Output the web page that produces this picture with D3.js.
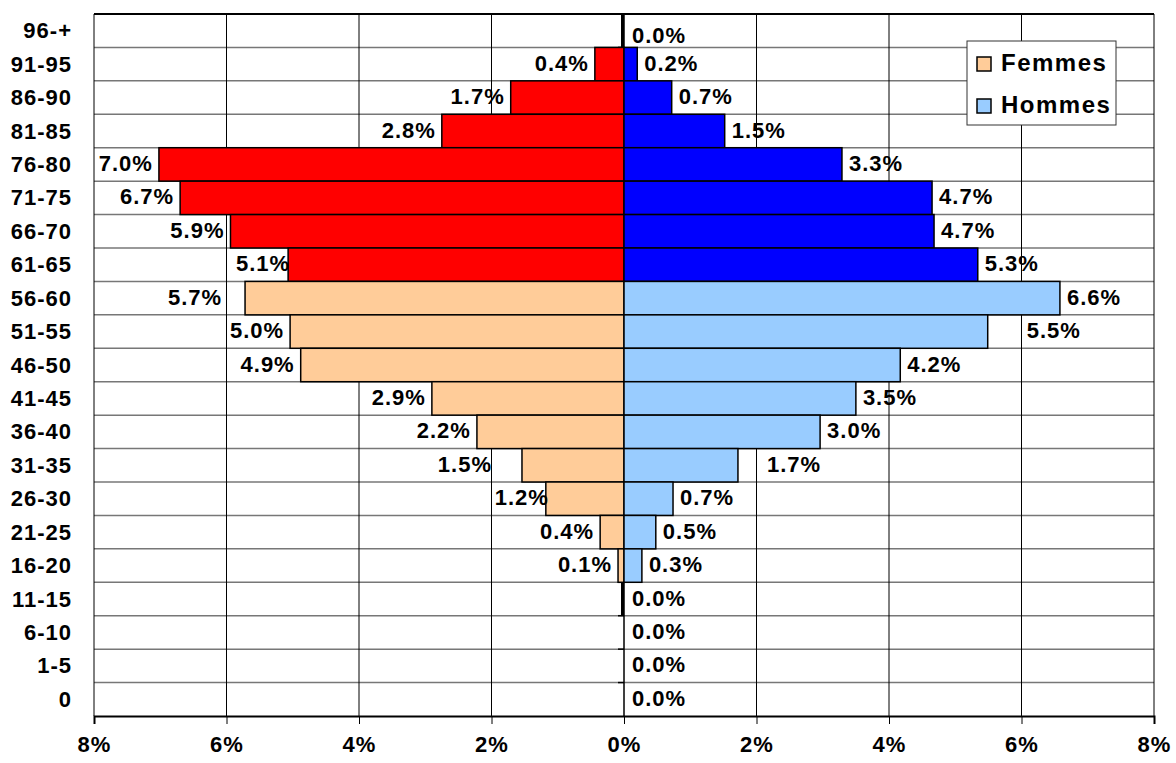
<!DOCTYPE html>
<html>
<head>
<meta charset="utf-8">
<script src="https://cdn.jsdelivr.net/npm/d3@7"></script>
<style>
  body { margin: 0; background: #fff; }
  text { font-family: Arial, "Liberation Sans", sans-serif; font-weight: bold; fill: #000; }
</style>
</head>
<body>
<svg id="chart" width="1176" height="763"></svg>
<script>
  // ============================================================
  // Data (percent of total population)
  // ============================================================

  const ages = ["96-+", "91-95", "86-90", "81-85", "76-80", "71-75", "66-70", "61-65",
    "56-60", "51-55", "46-50", "41-45", "36-40", "31-35", "26-30", "21-25", "16-20",
    "11-15", "6-10", "1-5", "0"];

  // null = no bar at all
  const femmes = [0, 0.44, 1.71, 2.75, 7.02, 6.70, 5.94, 5.07,
    5.72, 5.04, 4.88, 2.90, 2.22, 1.54, 1.18, 0.36, 0.09,
    0, null, null, null];

  const hommes = [0, 0.20, 0.72, 1.52, 3.29, 4.65, 4.68, 5.34,
    6.58, 5.49, 4.17, 3.50, 2.96, 1.72, 0.74, 0.48, 0.27,
    0, 0, 0, 0];

  const xTicks = [-8, -6, -4, -2, 0, 2, 4, 6, 8];
  const seniorAges = ["96-+", "91-95", "86-90", "81-85", "76-80", "71-75", "66-70", "61-65"];

  const colors = {
    femmes: "#ffcc99", femmesSenior: "#ff0000",
    hommes: "#99ccff", hommesSenior: "#0000ff"
  };

  // ============================================================
  // Layout
  // ============================================================

  const svg = d3.select("#chart");
  const x = d3.scaleLinear().domain([-8, 8]).range([94, 1154]);
  const y = d3.scaleBand().domain(ages).range([14, 716]).padding(0);
  const fmt = v => v.toFixed(1) + "%";

  // horizontal gridlines (row boundaries)
  svg.append("g").selectAll("line")
    .data(ages.slice(1))
    .join("line")
    .attr("x1", x(-8)).attr("x2", x(8))
    .attr("y1", d => y(d)).attr("y2", d => y(d))
    .attr("stroke", "#777").attr("stroke-width", 1.5);

  // vertical gridlines
  svg.append("g").selectAll("line")
    .data(xTicks)
    .join("line")
    .attr("x1", d => x(d)).attr("x2", d => x(d))
    .attr("y1", y.range()[0]).attr("y2", y.range()[1])
    .attr("stroke", "#000").attr("stroke-width", 1);

  // plot frame: top
  svg.append("line").attr("x1", x(-8)).attr("x2", x(8))
    .attr("y1", 14).attr("y2", 14).attr("stroke", "#000").attr("stroke-width", 2);

  // bottom axis
  const xAxis = d3.axisBottom(x)
    .tickValues(xTicks)
    .tickSize(8)
    .tickFormat(d => Math.abs(d) + "%");
  const gx = svg.append("g").attr("transform", `translate(0,${y.range()[1]})`).call(xAxis);
  gx.select(".domain").attr("stroke", "#000").attr("stroke-width", 2);
  gx.selectAll(".tick line").attr("stroke", "#000");
  gx.selectAll(".tick text")
    .attr("y", 36)
    .attr("dy", 0)
    .attr("font-size", 22)
    .attr("letter-spacing", 1)
    .attr("font-family", "Arial, 'Liberation Sans', sans-serif")
    .attr("font-weight", "bold");

  // category labels
  svg.append("g").selectAll("text")
    .data(ages)
    .join("text")
    .attr("x", 72)
    .attr("y", d => y(d) + y.bandwidth() / 2 + 7.5)
    .attr("text-anchor", "end")
    .attr("font-size", 22)
    .attr("letter-spacing", 1)
    .text(d => d);

  // center axis with small ticks to the left
  svg.append("line").attr("x1", x(0)).attr("x2", x(0))
    .attr("y1", 14).attr("y2", 716).attr("stroke", "#000").attr("stroke-width", 1);
  svg.append("g").selectAll("line")
    .data(ages.slice(1))
    .join("line")
    .attr("x1", x(0) - 6).attr("x2", x(0))
    .attr("y1", d => y(d)).attr("y2", d => y(d))
    .attr("stroke", "#000").attr("stroke-width", 1.5);

  // ============================================================
  // Bars
  // ============================================================

  const rows = ages.map((a, i) => ({ age: a, f: femmes[i], h: hommes[i], senior: seniorAges.includes(a) }));

  svg.append("g").selectAll("rect")
    .data(rows.filter(d => d.f > 0))
    .join("rect")
    .attr("x", d => x(-d.f))
    .attr("y", d => y(d.age))
    .attr("width", d => x(0) - x(-d.f))
    .attr("height", y.bandwidth())
    .attr("fill", d => d.senior ? colors.femmesSenior : colors.femmes)
    .attr("stroke", "#000")
    .attr("stroke-width", 1.5);

  // zero-length femmes bars collapse into a heavy line on the axis
  svg.append("g").selectAll("line")
    .data(rows.filter(d => d.f === 0))
    .join("line")
    .attr("x1", x(0) - 1.5).attr("x2", x(0) - 1.5)
    .attr("y1", d => y(d.age)).attr("y2", d => y(d.age) + y.bandwidth())
    .attr("stroke", "#000").attr("stroke-width", 3);

  svg.append("g").selectAll("rect")
    .data(rows.filter(d => d.h > 0))
    .join("rect")
    .attr("x", x(0))
    .attr("y", d => y(d.age))
    .attr("width", d => x(d.h) - x(0))
    .attr("height", y.bandwidth())
    .attr("fill", d => d.senior ? colors.hommesSenior : colors.hommes)
    .attr("stroke", "#000")
    .attr("stroke-width", 1.5);

  // ============================================================
  // Data labels (a few nudged the way the original sits)
  // ============================================================

  const femNudge = { "56-60": -17, "61-65": 8, "31-35": -24, "26-30": 9 };
  const homNudge = { "51-55": 32, "31-35": 22 };
  const labelY = d => y(d.age) + y.bandwidth() / 2 + 6.5 + (d.age === "96-+" ? 6 : 0);

  svg.append("g").selectAll("text")
    .data(rows.filter(d => d.f))
    .join("text")
    .attr("x", d => x(-d.f) - 6 + (femNudge[d.age] || 0))
    .attr("y", labelY)
    .attr("text-anchor", "end")
    .attr("font-size", 22)
    .attr("letter-spacing", 1)
    .text(d => fmt(d.f));

  svg.append("g").selectAll("text")
    .data(rows)
    .join("text")
    .attr("x", d => (d.h > 0 ? x(d.h) + 7 : x(0) + 8) + (homNudge[d.age] || 0))
    .attr("y", labelY)
    .attr("font-size", 22)
    .attr("letter-spacing", 1)
    .text(d => fmt(d.h));

  // ============================================================
  // Legend
  // ============================================================

  const legend = svg.append("g").attr("transform", "translate(967,41)");
  legend.append("rect")
    .attr("width", 149).attr("height", 84)
    .attr("fill", "#fff").attr("stroke", "#333").attr("stroke-width", 1);

  const legendItems = [
    { name: "Femmes", color: colors.femmes },
    { name: "Hommes", color: colors.hommes }
  ];
  const li = legend.selectAll(".item")
    .data(legendItems)
    .join("g")
    .attr("class", "item")
    .attr("transform", (d, i) => `translate(10,${16 + i * 42})`);
  li.append("rect")
    .attr("width", 14).attr("height", 14)
    .attr("fill", d => d.color)
    .attr("stroke", "#000").attr("stroke-width", 1.5);
  li.append("text")
    .attr("x", 24).attr("y", 14)
    .attr("font-size", 24)
    .attr("letter-spacing", 1.5)
    .text(d => d.name);
</script>
</body>
</html>
